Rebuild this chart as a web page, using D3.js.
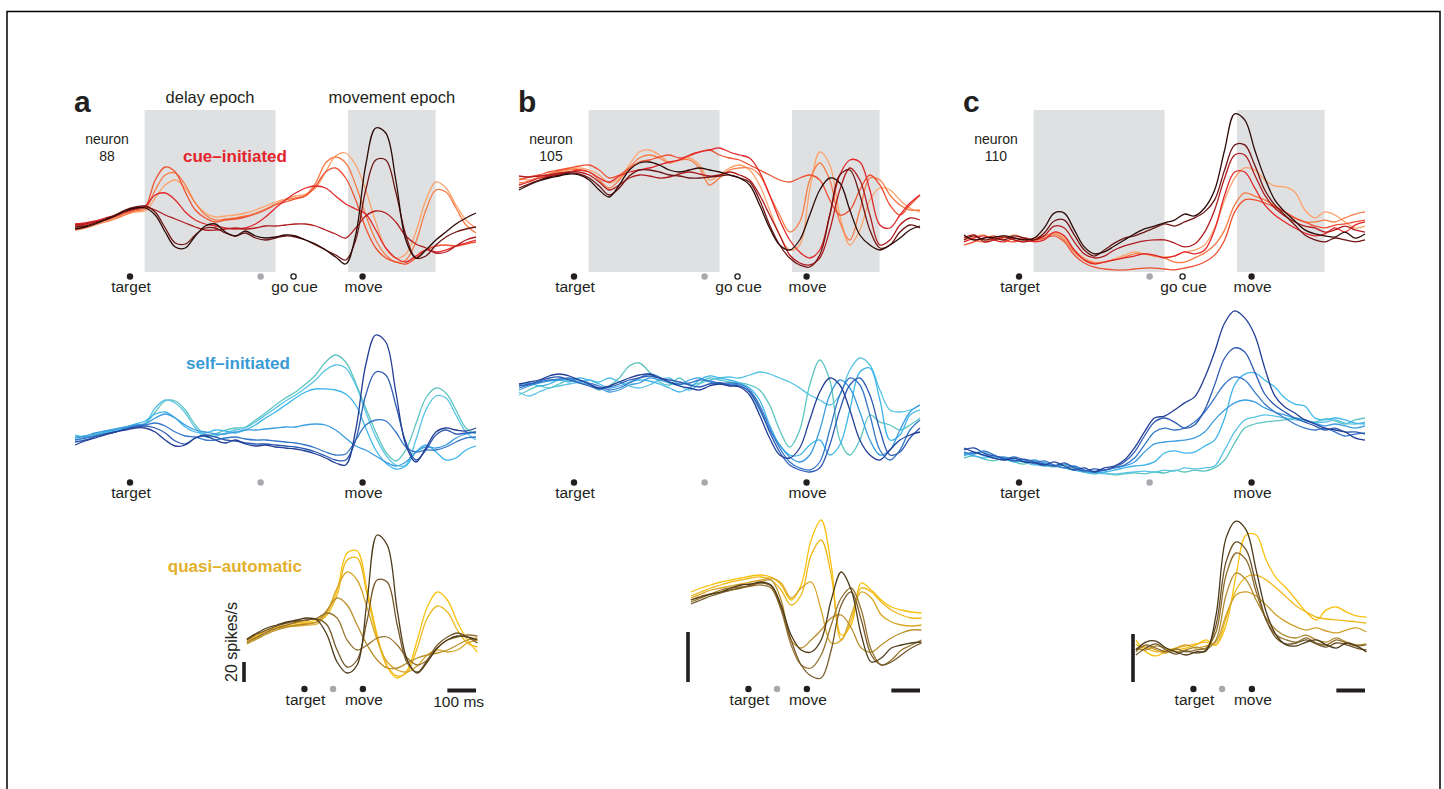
<!DOCTYPE html>
<html><head><meta charset="utf-8">
<script src="https://cdn.jsdelivr.net/npm/d3@7"></script>
<style>
html,body{margin:0;padding:0;background:#fff;}
svg{display:block;font-family:"Liberation Sans",Arial,Helvetica,sans-serif;}
</style></head><body>
<svg id="fig" width="1444" height="789"></svg>
<script>
// ---- time grids (ms) ----
const timeFull = [0,35,70,105,140,175,210,245,280,315,350,385,420,455,490,525,560,595,630,665,700,735,770,805,840,875,910,945,980,1015,1050,1085,1120,1155,1190,1225,1260,1295,1330,1365,1400];
const timeLate = [600,635,670,705,740,775,810,845,880,915,950,985,1020,1055,1090,1125,1160,1195,1230,1265,1300,1335,1370,1405];

// ---- events (ms) ----
const topEvents = [{t:192,kind:"dot",label:"target"},{t:648,kind:"grey",label:""},{t:763,kind:"open",label:"go cue"},{t:1004,kind:"dot",label:"move"}];
const midEvents = [{t:192,kind:"dot",label:"target"},{t:648,kind:"grey",label:""},{t:1004,kind:"dot",label:"move"}];
const lateEvents = [{t:801,kind:"dot",label:"target"},{t:901,kind:"grey",label:""},{t:1005,kind:"dot",label:"move"}];
const epochs = [{label:"delay epoch",t0:243,t1:700},{label:"movement epoch",t0:953,t1:1259}];
const rowNames = ["cue\u2013initiated","self\u2013initiated","quasi\u2013automatic"];
const panelLetters = ["a","b","c"];
const neuronIds = ["88","105","110"];

// ---- colours ----
const redShades  = ["#fca36b","#f77b45","#ef5030","#e2262a","#b01c20","#6e1414","#2b0b08"];
const blueShades = ["#5cc5bf","#58c3e4","#3fb6ea","#3a9de0","#3577c8","#2e5ab2","#233e95"];
const goldShades = ["#f9c20f","#eeb81a","#d7a628","#b98f2c","#977430","#75592a","#4e3b1a"];
const goldShadesC = ["#f9c20f","#eeb81a","#cfa02a","#b08a2e","#8c6c2c","#6c5226","#4a3818"];

// ---- firing rates (spikes/s) ----
const cueA = [
[42,43,46,49,52,56,58,59,72,85,90,82,67,57,53,54,55,57,60,64,68,71,74,76,82,98,114,117,105,80,48,22,12,16,38,70,88,82,65,50,42],
[40,42,45,48,51,55,59,61,80,95,97,85,67,55,50,51,52,54,57,61,66,70,72,75,87,107,113,107,85,55,30,15,8,10,28,60,80,78,62,45,37],
[44,45,48,50,53,57,60,63,90,103,98,78,60,52,48,50,51,53,56,60,65,68,71,74,84,98,102,92,70,42,22,12,8,6,12,20,24,25,24,26,28],
[46,47,49,52,55,59,62,64,75,77,70,58,50,46,44,42,41,42,46,53,62,70,77,82,84,82,74,66,61,56,40,22,12,8,14,20,18,20,24,27,30],
[45,46,48,50,54,58,61,63,60,55,51,47,43,40,40,41,42,41,42,44,44,45,46,46,44,40,36,32,42,54,59,57,48,34,26,22,17,18,24,30,33],
[43,44,47,51,55,60,63,64,58,42,27,26,35,42,42,37,34,37,32,30,32,34,33,30,25,20,15,10,30,80,110,110,78,35,12,14,25,33,38,41,43],
[41,43,46,50,54,59,62,62,55,38,23,22,34,44,46,38,34,39,34,32,33,35,34,30,26,20,13,6,35,105,142,137,90,30,12,20,30,38,46,52,57]];
const selfA = [
[38,39,41,43,45,47,49,51,63,74,74,65,50,40,41,45,47,48,55,62,70,77,83,91,100,113,120,113,92,67,43,23,14,25,51,77,87,82,65,47,41],
[35,37,39,42,44,47,50,52,67,75,72,62,47,38,39,42,45,47,53,60,67,74,80,87,95,105,110,107,90,63,38,20,10,10,35,65,79,77,60,43,35],
[40,38,40,43,45,48,51,54,61,63,57,48,43,42,45,44,42,45,50,57,63,70,77,83,86,86,85,81,70,47,25,12,6,9,23,30,23,15,17,25,29],
[37,39,42,44,46,48,50,51,57,61,57,50,45,43,41,41,43,45,45,46,47,48,48,50,51,50,45,37,29,25,19,13,9,13,23,28,27,30,37,41,43],
[35,37,39,41,43,46,49,50,52,49,43,39,38,35,35,37,38,36,35,35,34,33,32,30,27,23,20,21,35,50,55,54,43,28,23,25,25,28,33,37,38],
[33,35,38,41,43,46,48,49,47,42,34,31,37,40,38,35,34,32,31,31,30,29,28,26,23,19,15,15,35,80,103,100,70,33,15,25,40,45,41,42,43],
[30,34,37,40,43,45,47,47,43,35,29,30,37,39,35,32,35,31,29,30,28,27,26,24,21,17,12,10,45,110,140,133,83,30,13,27,43,47,45,44,47]];
const quasiA = [
[44,49,55,58,60,62,63,65,73,95,132,134,95,50,18,7,15,45,78,93,85,63,45,33],
[45,50,54,57,59,60,62,63,70,90,125,127,90,47,19,9,13,37,67,79,73,55,42,38],
[42,47,52,56,58,59,60,61,73,97,113,105,77,45,23,15,13,19,30,35,33,35,42,45],
[41,46,51,55,58,60,61,63,75,87,80,60,40,25,17,17,22,27,30,32,35,40,45,47],
[43,48,53,57,60,63,65,67,72,67,45,35,40,47,48,40,27,20,25,37,45,48,50,49],
[45,51,55,59,62,64,65,66,60,35,18,25,65,105,103,60,22,13,25,40,48,52,48,42],
[46,52,57,60,63,65,67,65,50,23,12,20,85,150,140,75,25,12,23,37,45,49,48,45]];

const cueB = [
[38.8,38,38.8,40,41.2,42,42.8,42,40,36.8,38.8,44,49.2,50,48,45.2,46,46.8,44,38,40,42.8,44,42,36,26,16,10,12,34,49.2,44,24,12,18,30,34.8,34,30,26.8,25.2],
[36.8,37.6,39.2,40.4,41.6,42.4,42,41.2,38,34.8,38,42.8,46.8,48,46.8,44.8,46,46,42.8,36,38.8,42,42.8,42.8,40,32,24,17.2,21.2,38,44.8,38,21.2,14,26,38.8,38,32,28,26,26],
[38,39.2,40,41.2,42,42.8,43.6,44,42,38.8,40,42.8,45.2,46,47.2,48,46.8,47.6,49.2,50,48,46.8,46,44,42,40,38,37.2,38.8,40,38,30,24,26,34,40,36,28,24,28,32],
[36,37.2,38.8,39.6,40.4,41.2,42,41.2,38.8,37.2,39.6,41.2,42,42.8,44,45.2,46,48,49.2,50,50.8,49.2,48,46.8,41.2,32,22,14,9.2,6.8,10,24,40,46,45.2,34,20,18.8,24,28.8,32],
[39.6,39.2,39.6,40,40.8,41.2,41.2,40,37.2,34,36,38.8,40,39.6,38.8,39.2,40.4,41.2,40.4,39.6,40,41.2,40,38,32,24,16,8,4.8,4,6.8,18,34,42.8,38,24,12,14,20,22.8,22],
[34.8,36.4,38,39.2,40,40.8,40.4,38.8,35.6,32,34.8,39.6,42,42,41.2,40,39.6,38.8,38.8,39.2,39.6,40,38.8,37.2,30,20,12,6.8,4,3.2,8,24,40,42,32,18,10.8,12,17.2,20,18.8],
[34,36,37.6,38.8,39.6,40.4,40,38,34,31.2,36,42,44.8,45.2,44,42,41.2,42,42.8,42,41.2,40,38.8,36,28,18.8,12,10,14,24,34,38.8,36.8,26,16,12,10,12,14.8,18,19.6]];
const selfB = [
[32,34,35.6,34.8,36.4,38,36.8,36,34,35.6,38.8,43.6,44.8,41.2,37.2,36,38.8,36,36.8,38.8,38,37.2,36.8,36,34,28,18,11.2,18,36,46,38,14,8,14,24,21.2,20,18,20,22.8],
[33.2,31.6,33.2,34.8,35.6,36.4,37.2,38,37.2,38.8,37.2,35.6,34.8,36,38,38.8,36,34,36.4,38,38.8,39.2,38.8,40,41.2,40.4,38.8,37.2,34.8,32,30,28,32,42,46.8,44,34,26,25.2,26,28],
[36,36.8,35.6,36.4,38,37.2,38.8,38,36.4,34.8,35.6,37.2,38,37.6,36.4,34.8,33.2,34.8,38,39.6,38.8,38,36.8,34.8,30,20,12,8,8,12,14,8,12,26,41.2,42.8,30,14,16,24,26],
[34,35.6,36.8,37.6,38,38.4,37.2,36,34.8,33.2,34,36,36.8,38.8,38,36.8,36,38,38.8,37.2,36.4,36.4,36,33.2,26,18,12,7.2,5.2,8,18,32,38,34.8,25.2,14,8,10,18,25.2,28],
[34.8,36,37.2,38,38.4,38.8,38,36.8,35.6,34,34.8,36.8,38.8,40.4,39.2,37.2,36.4,36.8,38,37.6,36.8,36.8,36.4,34,28,18.8,10.8,5.2,2.8,2,5.2,18,32,38.8,36,24,10,6,10,18,22],
[35.6,36.4,37.6,38.8,39.2,38,36.8,35.6,34.4,35.2,36.4,38,38.8,39.6,38.8,38,37.2,36,35.2,36.4,36.8,36,35.6,33.2,26.8,17.2,9.2,4,2,1.2,2.8,12,26,36,38.8,32,18,8,9.2,14.8,18.8],
[36.4,37.2,38,39.6,40.4,39.6,38,36.4,34.8,35.6,37.2,38.8,40,40.4,38.8,37.2,35.6,34.8,34,35.6,36.4,35.6,35.2,32,24,14.8,8,6.8,10.8,22,33.2,38.8,36,26,14,8,6,10,14,16,17.2]];
const quasiB = [
[37.2,38.8,40,41.2,42,42.8,43.6,44,43.2,40,34,40,58,66,48,20,24,40.8,38,34,31.2,30,29.2,28.8],
[35.6,37.2,38.8,40,41.2,42,42.8,43.2,42,38,32,36,52,58,44,18,26,38.8,37.2,33.2,30,28,26.8,26.8],
[34.8,36.4,38,38.8,39.6,40.4,41.2,42,42.8,40.8,34.8,38.8,41.2,30,16.8,18,28,37.2,34.8,28,25.2,24,23.6,24],
[34,35.6,36.4,37.2,38,38.8,39.6,41.2,42,34,18,14.8,18,22,26.8,28,22.8,14.8,13.2,16,18.8,20.8,22,22],
[33.2,34.8,36.4,38,38.8,39.2,39.6,40,38.8,30,16,8,6.8,12,24,34.8,38.8,30,14,8,10,14,16,18],
[32.4,34,35.6,36.8,38,38.8,40,40.8,39.6,30.8,18,8,3.6,2.8,14,32,37.2,26,12,8,9.2,12,14.8,16.8],
[34,35.2,36.4,37.2,38.8,40,40.4,41.2,40,32,20,14,13.2,18,34,45.2,38,20,9.2,10.8,14.8,16,16.8,17.2]];

const cueC = [
[14.6,15.8,16.7,14.6,15.4,16.7,15.4,14.2,15.4,17.5,15.4,10.4,7.1,5.4,5.4,6.7,8.3,9.6,8.8,7.9,7.5,7.9,9.6,10.4,12.5,19.6,31.3,40.4,44.6,43.8,39.6,37.1,36.7,34.6,27.1,23.8,26.3,25,22.1,19.6,20.4],
[16.3,14.6,13.8,15.4,16.3,14.6,13.8,15.4,16.3,17.1,14.6,9.6,6.3,5,5.4,6.3,7.5,8.8,8.8,7.9,7.1,5.4,5.4,7.1,9.2,12.5,18.8,29.2,34.2,32.9,31.3,28.8,26.3,23.8,22.1,22.1,22.9,22.1,23.8,25.4,26.3],
[12.5,13.8,15.4,16.3,14.6,13.8,15.4,14.6,15.4,16.3,13.8,8.3,5,3.3,2.5,2.1,2.1,2.5,2.9,2.9,2.5,2.1,2.9,3.8,5.4,8.3,14.6,26.3,31.3,31.3,30,28.3,26.3,23.8,22.1,20.4,19.6,20.8,21.3,22.1,22.9],
[13.8,15.4,16.3,14.6,13.8,15.4,14.6,13.8,14.6,17.9,16.3,10.4,6.3,4.6,5.4,6.3,7.1,7.9,8.8,8.3,7.1,7.9,9.6,8.8,10.4,18.8,33.3,42.9,42.9,36.3,29.2,25,22.1,19.6,17.5,16.3,17.1,19.6,17.9,20.8,22.1],
[15.4,16.7,13.8,14.6,15.8,14.6,13.8,14.6,16.3,20.4,19.6,13.8,8.8,7.1,7.9,10.4,12.1,13.3,14.2,14.6,14.6,13.3,11.7,12.9,17.9,27.1,40.4,50,50,41.7,33.3,27.9,24.6,22.1,20.4,19.6,17.9,18.8,20.4,18.8,17.9],
[14.6,16.3,14.6,15.4,14.6,16.3,15.4,14.6,17.5,22.5,22.9,16.7,10.4,7.9,10.4,13.3,15.4,16.3,17.9,19.6,21.3,20.4,22.1,23.8,26.3,31.3,43.8,54.2,54.2,45.8,35.4,29.2,25,20.8,16.7,14.6,13.8,15.4,14.6,13.8,14.6],
[16.7,14.6,15.4,15.8,16.3,15.4,14.6,15.4,19.6,25.8,25.8,18.8,11.7,8.8,9.6,12.1,14.6,17.1,19.2,20.4,21.7,22.9,25.4,24.6,27.9,35.4,52.1,67.1,64.6,52.1,40.4,31.3,26.3,22.5,18.8,17.1,16.3,15.8,17.9,15.4,17.1]];
const selfC = [
[8.3,9.2,7.9,7.1,8.3,6.7,5.8,7.1,5.4,4.6,5.4,3.8,2.5,1.7,2.1,1.3,1.7,2.1,1.7,2.5,2.1,3.3,2.5,3.3,2.9,4.2,7.5,14.6,20.8,22.5,23.3,23.8,24.2,25,24.2,23.3,24.6,23.8,22.5,24.2,25],
[9.2,10.4,10.8,8.3,7.5,8.3,6.7,5.4,6.3,5,4.2,3.3,2.9,2.1,1.7,1.7,2.1,2.5,2.9,2.5,3.3,2.9,4.2,3.8,4.2,5,11.7,19.2,24.2,25.4,26.3,25.8,25,24.2,23.8,23.3,23.3,24.2,22.9,22.5,23.3],
[10.4,9.2,8.3,9.2,7.9,6.7,7.5,5.8,5,5.4,4.2,3.3,2.5,2.1,2.5,3.3,4.2,5,5.4,6.7,10.4,11.3,10.4,10.8,13.3,15.8,25,38.8,43.3,43.8,40.8,37.9,33.3,30.8,30,25,24.2,25,24.2,22.9,22.5],
[9.6,10.8,9.2,8.3,8.8,7.5,6.7,7.5,6.3,5,5.8,4.6,3.3,2.9,3.3,4.2,5,6.7,10.8,14.2,15,15.4,15.8,16.7,19.2,24.2,28.3,31.3,32.5,31.7,29.2,27.5,26.3,25,24.2,22.9,21.7,22.5,21.7,20.8,21.7],
[10.8,10,11.3,9.6,7.9,8.8,7.5,6.3,7.1,5.4,4.2,5,3.3,2.5,3.3,4.2,5.4,8.3,13.8,19.2,20.8,20,20.8,23.3,27.5,33.3,39.2,42.1,40.8,35.8,30.8,27.5,25,22.5,20.8,20,20.8,19.2,17.5,18.3,18.8],
[11.7,12.5,10.4,9.2,8.3,7.1,7.9,6.7,5.8,5,6.3,4.2,2.9,3.8,3.3,4.6,6.7,10.8,17.5,23.3,25,23.3,20.8,22.1,28.3,38.8,50,54.2,52.5,44.2,35,30.4,27.5,25,23.3,21.7,20,20.8,19.2,19.2,18.3],
[12.5,10.8,9.6,8.3,7.5,8.3,6.7,6.3,5.4,6.7,5,3.3,4.2,2.5,4.2,5,7.5,12.5,19.2,25,25.8,28.3,31.3,33.8,41.7,52.5,64.6,69.6,66.7,59.6,45.8,34.2,29.6,27.1,24.2,22.5,20.8,20,19.2,16.7,15.8]];
const quasiC = [
[18.8,13.8,12.1,13.8,14.6,15.4,16.7,18.8,16.7,25,45.8,62.5,62.5,52.1,44.6,40.4,35.4,30.4,27.1,31.3,32.5,30.4,28.8,28.3],
[16.7,15.4,13.8,14.6,15.4,16.3,17.1,17.9,16.7,27.9,39.6,45,45.8,43.8,40.4,36.7,32.9,30.4,28.3,27.5,27.1,26.7,26.3,25.8],
[14.6,16.3,14.6,13.3,15.4,16.7,15.4,16.3,17.9,29.2,37.5,38.8,37.1,33.3,29.2,26.3,24.2,22.9,23.8,22.5,21.7,22.9,23.8,22.1],
[15.4,14.6,16.3,15.4,13.8,14.6,15.8,15,18.8,37.5,46.7,43.8,35.4,27.9,22.9,20.4,19.6,20.8,18.8,17.9,19.6,17.9,16.7,17.1],
[13.8,16.7,15.4,13.8,15,13.8,14.6,15.4,22.1,45.8,55,52.1,38.8,27.1,20.8,18.8,17.9,19.6,17.5,16.7,18.8,17.5,16.3,16.7],
[12.5,15.4,17.1,14.6,12.9,14.2,13.3,14.6,25,51.3,59.6,56.3,41.7,27.1,19.6,17.1,17.5,18.8,17.1,15.8,17.5,16.7,15.4,14.6],
[14.6,17.9,18.3,15.4,13.8,12.5,13.8,14.2,29.2,61.3,68.3,64.6,47.9,30.4,20.8,16.7,16.3,17.9,18.8,16.7,15.4,17.5,16.3,13.8]];

// ---- drawing ----
const svg = d3.select("#fig");
const ink = "#231f20";
svg.append("path").attr("d","M7,789 V11.5 H1440 V789").attr("fill","none").attr("stroke","#000").attr("stroke-width",1.5);

const panels = [
  {x0:75,  k:1.0, rows:[cueA,selfA,quasiA], base:[270,475,685], gold:goldShades},
  {x0:519, k:2.5, rows:[cueB,selfB,quasiB], base:[275,475,685], gold:goldShades},
  {x0:964, k:2.4, rows:[cueC,selfC,quasiC], base:[275,478,685], gold:goldShadesC}
];
const markerY = [276.5, 482.5, 689];
const markerTextY = [292, 498, 704.5];

panels.forEach((p, pi) => {
  const g = svg.append("g");
  const x = d3.scaleLinear().domain([0,1400]).range([p.x0, p.x0 + 401]);
  // epochs
  epochs.forEach(e => {
    g.append("rect").attr("x", x(e.t0)).attr("y", 110).attr("width", x(e.t1) - x(e.t0)).attr("height", 162)
      .attr("fill", "#dfe0e2");
    if (pi === 0) {
      g.append("text").attr("x", (x(e.t0) + x(e.t1)) / 2).attr("y", 103).attr("text-anchor","middle")
        .attr("font-size", 16.5).attr("fill", ink).text(e.label);
    }
  });
  // letter + neuron
  g.append("text").attr("x", p.x0 - 1).attr("y", 112).attr("font-size", 30).attr("font-weight","bold").attr("fill", ink).text(panelLetters[pi]);
  g.append("text").attr("x", p.x0 + 32).attr("y", 144).attr("text-anchor","middle").attr("font-size", 14).attr("fill", ink).text("neuron");
  g.append("text").attr("x", p.x0 + 32).attr("y", 161).attr("text-anchor","middle").attr("font-size", 14).attr("fill", ink).text(neuronIds[pi]);

  const palettes = [redShades, blueShades, p.gold];
  p.rows.forEach((traces, ri) => {
    const times = ri < 2 ? timeFull : timeLate;
    const y = d3.scaleLinear().domain([0, 100]).range([p.base[ri], p.base[ri] - 100 * p.k]);
    const line = d3.line().x((d, i) => x(times[i])).y(d => y(d)).curve(d3.curveCatmullRom.alpha(0.5));
    traces.forEach((tr, ti) => {
      g.append("path").attr("d", line(tr)).attr("fill","none").attr("stroke", palettes[ri][ti])
        .attr("stroke-width", 1.3).attr("stroke-linejoin","round");
    });
    // event markers
    const evs = ri === 0 ? topEvents : ri === 1 ? midEvents : lateEvents;
    evs.forEach(ev => {
      const cx = x(ev.t);
      if (ev.kind === "open") {
        g.append("circle").attr("cx", cx).attr("cy", markerY[ri]).attr("r", 2.6).attr("fill","#fff").attr("stroke", ink).attr("stroke-width", 1.3);
      } else {
        g.append("circle").attr("cx", cx).attr("cy", markerY[ri]).attr("r", 3.2).attr("fill", ev.kind === "grey" ? "#a7a9ac" : ink);
      }
      if (ev.label) {
        g.append("text").attr("x", cx + 1).attr("y", markerTextY[ri]).attr("text-anchor","middle")
          .attr("font-size", 15.5).attr("fill", ink).text(ev.label);
      }
    });
    // scale bars on bottom row
    if (ri === 2) {
      const sb = 20; // spikes/s
      g.append("rect").attr("x", x(590) - 1.8).attr("y", y(0) - 3 - (y(0) - y(sb))).attr("width", 3.6)
        .attr("height", y(0) - y(sb)).attr("fill", ink);
      g.append("rect").attr("x", x(1300)).attr("y", 688.5).attr("width", x(1400) - x(1300)).attr("height", 4).attr("fill", ink);
      if (pi === 0) {
        g.append("text").attr("transform", `translate(${x(590) - 6.5},${y(0) - 3}) rotate(-90)`)
          .attr("font-size", 16).attr("fill", ink).text("20 spikes/s");
        g.append("text").attr("x", (x(1300) + x(1400)) / 2 - 3).attr("y", 707).attr("text-anchor","middle")
          .attr("font-size", 15.5).attr("fill", ink).text("100 ms");
      }
    }
  });
});

// row names (panel a only)
svg.append("text").attr("x", 235).attr("y", 162).attr("text-anchor","middle").attr("font-size", 17).attr("font-weight","bold").attr("fill","#e3242b").text(rowNames[0]);
svg.append("text").attr("x", 238).attr("y", 369).attr("text-anchor","middle").attr("font-size", 17).attr("font-weight","bold").attr("fill","#3a9ad5").text(rowNames[1]);
svg.append("text").attr("x", 302).attr("y", 572).attr("text-anchor","end").attr("font-size", 17).attr("font-weight","bold").attr("fill","#e2b02a").text(rowNames[2]);
</script>
</body></html>
